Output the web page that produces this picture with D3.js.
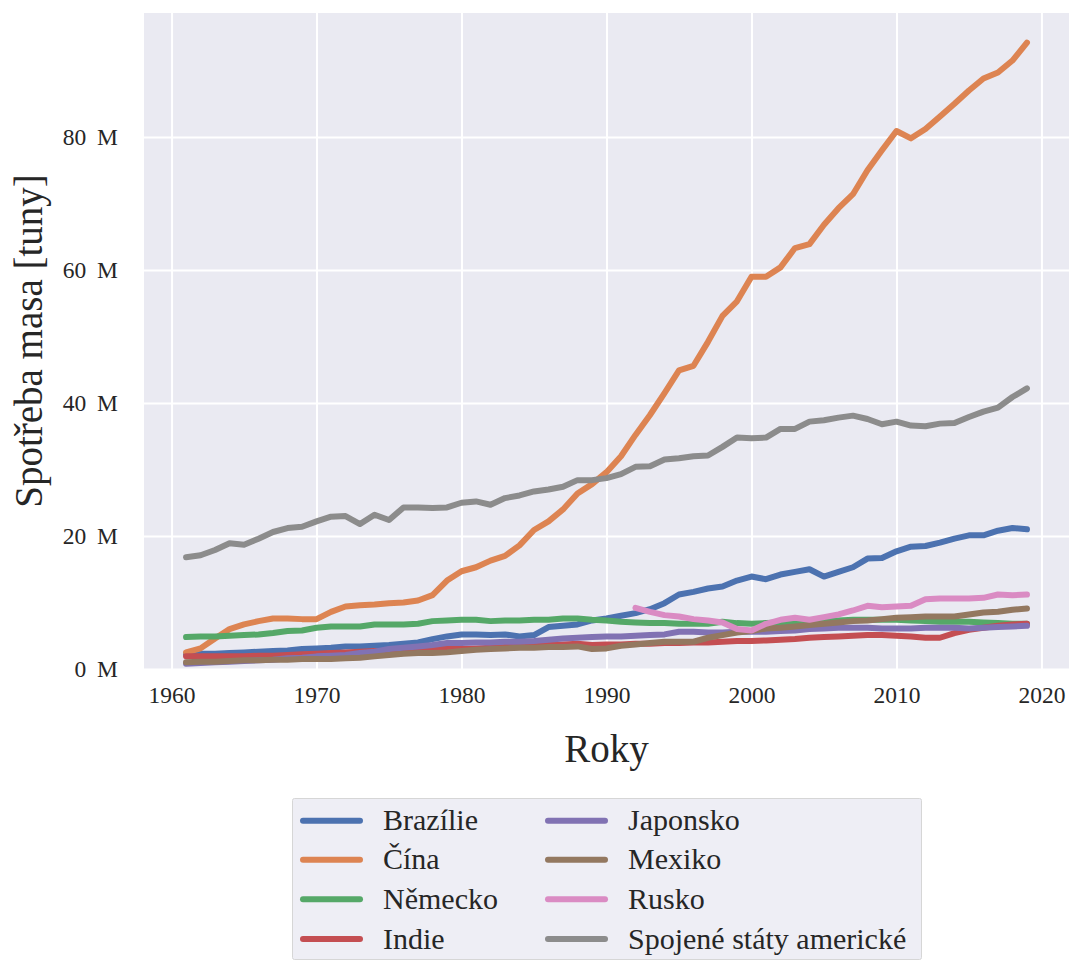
<!DOCTYPE html>
<html>
<head>
<meta charset="utf-8">
<script src="https://cdn.jsdelivr.net/npm/d3@7"></script>
<style>
  html, body { margin: 0; padding: 0; background: #ffffff; }
  svg { display: block; }
  text { font-family: "Liberation Serif", "DejaVu Serif", serif; fill: #262626; }
</style>
</head>
<body>
<svg id="chart" width="1071" height="961"></svg>
<script>
// Meat consumption per country, 1961–2019, in millions of tonnes
const years = [1961,1962,1963,1964,1965,1966,1967,1968,1969,1970,
  1971,1972,1973,1974,1975,1976,1977,1978,1979,1980,
  1981,1982,1983,1984,1985,1986,1987,1988,1989,1990,
  1991,1992,1993,1994,1995,1996,1997,1998,1999,2000,
  2001,2002,2003,2004,2005,2006,2007,2008,2009,2010,
  2011,2012,2013,2014,2015,2016,2017,2018,2019];

const brazil = [2.2,2.3,2.3,2.4,2.5,2.6,2.7,2.8,3.0,3.1,
  3.2,3.4,3.4,3.5,3.6,3.8,4.0,4.5,4.9,5.2,
  5.2,5.1,5.2,4.9,5.1,6.3,6.5,6.7,7.3,7.6,
  8.0,8.4,9.0,9.9,11.2,11.6,12.1,12.4,13.3,13.9,
  13.5,14.2,14.6,15.0,13.9,14.6,15.3,16.6,16.7,17.7,
  18.4,18.5,19.0,19.6,20.1,20.1,20.8,21.2,21.0];

const china = [2.5,3.1,4.6,6.0,6.7,7.2,7.6,7.6,7.5,7.5,
  8.6,9.4,9.6,9.7,9.9,10.0,10.3,11.1,13.3,14.7,
  15.3,16.3,17.0,18.6,20.9,22.2,24.0,26.4,27.8,29.6,
  32.0,35.2,38.2,41.5,44.9,45.6,49.2,53.1,55.3,59.0,
  59.0,60.4,63.3,63.9,66.8,69.3,71.4,75.0,78.0,80.9,
  79.8,81.2,83.1,85.0,87.0,88.8,89.7,91.5,94.2];

const germany = [4.8,4.9,4.9,5.0,5.1,5.2,5.4,5.7,5.8,6.2,
  6.4,6.4,6.4,6.7,6.7,6.7,6.8,7.2,7.3,7.4,
  7.4,7.2,7.3,7.3,7.4,7.4,7.6,7.6,7.4,7.3,
  7.1,7.0,6.9,6.9,6.8,6.8,6.8,7.1,6.9,6.8,
  6.9,7.0,7.1,7.2,7.2,7.3,7.4,7.4,7.4,7.4,
  7.3,7.2,7.1,7.1,7.1,7.0,6.9,6.8,6.8];

const india = [1.9,1.9,1.9,1.9,1.9,2.0,2.0,2.1,2.2,2.3,
  2.4,2.5,2.6,2.7,2.7,2.8,2.9,3.0,3.0,3.0,
  3.1,3.2,3.3,3.4,3.5,3.6,3.7,3.8,3.6,3.7,
  3.7,3.8,3.8,3.9,3.9,4.0,4.0,4.1,4.2,4.2,
  4.3,4.4,4.5,4.7,4.8,4.9,5.0,5.1,5.1,5.0,
  4.9,4.7,4.7,5.4,5.9,6.2,6.5,6.7,6.8];

const japan = [0.8,0.9,1.0,1.1,1.2,1.3,1.4,1.6,1.7,1.9,
  2.0,2.1,2.4,2.6,3.0,3.2,3.4,3.6,3.9,3.9,
  4.0,4.0,4.1,4.1,4.2,4.4,4.6,4.7,4.8,4.9,
  4.9,5.0,5.1,5.2,5.6,5.6,5.5,5.5,5.6,5.6,
  5.6,5.7,5.8,6.0,6.1,6.2,6.2,6.2,6.1,6.1,
  6.1,6.2,6.2,6.2,6.1,6.2,6.3,6.4,6.5];

const mexico = [1.0,1.1,1.1,1.2,1.3,1.3,1.4,1.4,1.5,1.5,
  1.5,1.6,1.7,1.9,2.1,2.3,2.4,2.4,2.5,2.7,
  2.9,3.0,3.1,3.2,3.2,3.3,3.3,3.4,3.0,3.1,
  3.5,3.7,3.9,4.1,4.1,4.1,4.7,5.1,5.5,5.7,
  6.1,6.2,6.4,6.6,6.8,7.0,7.2,7.3,7.5,7.7,
  7.8,7.9,7.9,7.9,8.2,8.5,8.6,8.9,9.1];

// Russia is only reported from 1992 onwards
const russia = [null,null,null,null,null,null,null,null,null,null,
  null,null,null,null,null,null,null,null,null,null,
  null,null,null,null,null,null,null,null,null,null,
  null,9.2,8.6,8.1,7.9,7.5,7.3,7.0,6.0,5.8,
  6.8,7.4,7.7,7.4,7.8,8.2,8.8,9.5,9.3,9.4,
  9.5,10.5,10.6,10.6,10.6,10.7,11.2,11.1,11.2];

const usa = [16.8,17.1,17.9,18.9,18.7,19.6,20.6,21.2,21.4,22.2,
  22.9,23.0,21.8,23.2,22.4,24.3,24.3,24.2,24.3,25.0,
  25.2,24.7,25.7,26.1,26.7,27.0,27.4,28.4,28.4,28.7,
  29.3,30.4,30.5,31.5,31.7,32.0,32.1,33.4,34.8,34.7,
  34.8,36.1,36.1,37.2,37.4,37.8,38.1,37.6,36.8,37.2,
  36.6,36.5,36.9,37.0,37.9,38.7,39.3,40.9,42.2];

const countries = ["Brazílie", "Čína", "Německo", "Indie", "Japonsko", "Mexiko", "Rusko", "Spojené státy americké"];
const seriesValues = [brazil, china, germany, india, japan, mexico, russia, usa];
const colors = ["#4c72b0", "#dd8452", "#55a868", "#c44e52", "#8172b3", "#937860", "#da8bc3", "#8c8c8c"];

const xTicks = [1960, 1970, 1980, 1990, 2000, 2010, 2020];
const yTicks = [0, 20, 40, 60, 80];
const xTitle = "Roky";
const yTitle = "Spotřeba masa [tuny]";

// ---- layout ----
const plot = { left: 144, right: 1069, top: 13, bottom: 669 };
const svg = d3.select("#chart");

const x = d3.scaleLinear().domain([1958.1, 2021.9]).range([plot.left, plot.right]);
const y = d3.scaleLinear().domain([0, 98.65]).range([plot.bottom, plot.top]);

// panel background
svg.append("rect")
  .attr("x", plot.left).attr("y", plot.top)
  .attr("width", plot.right - plot.left).attr("height", plot.bottom - plot.top)
  .attr("fill", "#eaeaf2");

svg.append("clipPath").attr("id", "panel")
  .append("rect")
  .attr("x", plot.left).attr("y", plot.top)
  .attr("width", plot.right - plot.left).attr("height", plot.bottom - plot.top);

// white grid lines via the axes' tick lines
const xAxis = d3.axisBottom(x).tickValues(xTicks).tickSize(-(plot.bottom - plot.top)).tickFormat(d => d);
const gx = svg.append("g").attr("transform", `translate(0,${plot.bottom})`).call(xAxis);
gx.select(".domain").remove();
gx.selectAll(".tick line").attr("stroke", "#ffffff").attr("stroke-width", 2);
gx.selectAll(".tick text")
  .attr("y", 34).attr("dy", null)
  .style("font-family", '"Liberation Serif", serif')
  .style("font-size", "23.5px").attr("fill", "#262626");

const yAxis = d3.axisLeft(y).tickValues(yTicks).tickSize(-(plot.right - plot.left)).tickFormat(d => `${d} M`);
const gy = svg.append("g").attr("transform", `translate(${plot.left},0)`).call(yAxis);
gy.select(".domain").remove();
gy.selectAll(".tick line").attr("stroke", "#ffffff").attr("stroke-width", 2);
gy.selectAll(".tick text")
  .attr("x", -26).attr("dy", "0.33em")
  .style("font-family", '"Liberation Serif", serif')
  .style("font-size", "23.5px").style("word-spacing", "5px").attr("fill", "#262626");

// series lines
const line = d3.line()
  .defined(d => d.v !== null)
  .x(d => x(d.year))
  .y(d => y(d.v));

const lines = svg.append("g").attr("clip-path", "url(#panel)");
seriesValues.forEach((vals, i) => {
  const pts = years.map((yr, j) => ({ year: yr, v: vals[j] }));
  lines.append("path")
    .datum(pts)
    .attr("d", line)
    .attr("fill", "none")
    .attr("stroke", colors[i])
    .attr("stroke-width", 6)
    .attr("stroke-linejoin", "round")
    .attr("stroke-linecap", "round");
});

// axis titles
svg.append("text")
  .attr("x", (plot.left + plot.right) / 2).attr("y", 762)
  .attr("text-anchor", "middle")
  .style("font-size", "39px")
  .text(xTitle);

svg.append("text")
  .attr("transform", `translate(42,${(plot.top + plot.bottom) / 2}) rotate(-90)`)
  .attr("text-anchor", "middle")
  .style("font-size", "39px")
  .text(yTitle);

// legend
const legend = svg.append("g");
legend.append("rect")
  .attr("x", 292.5).attr("y", 798.5).attr("width", 629).attr("height", 161)
  .attr("rx", 2)
  .attr("fill", "#eeeef5").attr("stroke", "#d6d6d6").attr("stroke-width", 1);

const colX = [303, 548];
const rowY = [820.7, 859.7, 899.2, 939];
countries.forEach((name, i) => {
  const c = Math.floor(i / 4), r = i % 4;
  legend.append("line")
    .attr("x1", colX[c]).attr("x2", colX[c] + 57)
    .attr("y1", rowY[r]).attr("y2", rowY[r])
    .attr("stroke", colors[i]).attr("stroke-width", 6)
    .attr("stroke-linecap", "round");
  legend.append("text")
    .attr("x", colX[c] + 80).attr("y", rowY[r] + 9.5)
    .style("font-size", "30px")
    .text(name);
});
</script>
</body>
</html>
